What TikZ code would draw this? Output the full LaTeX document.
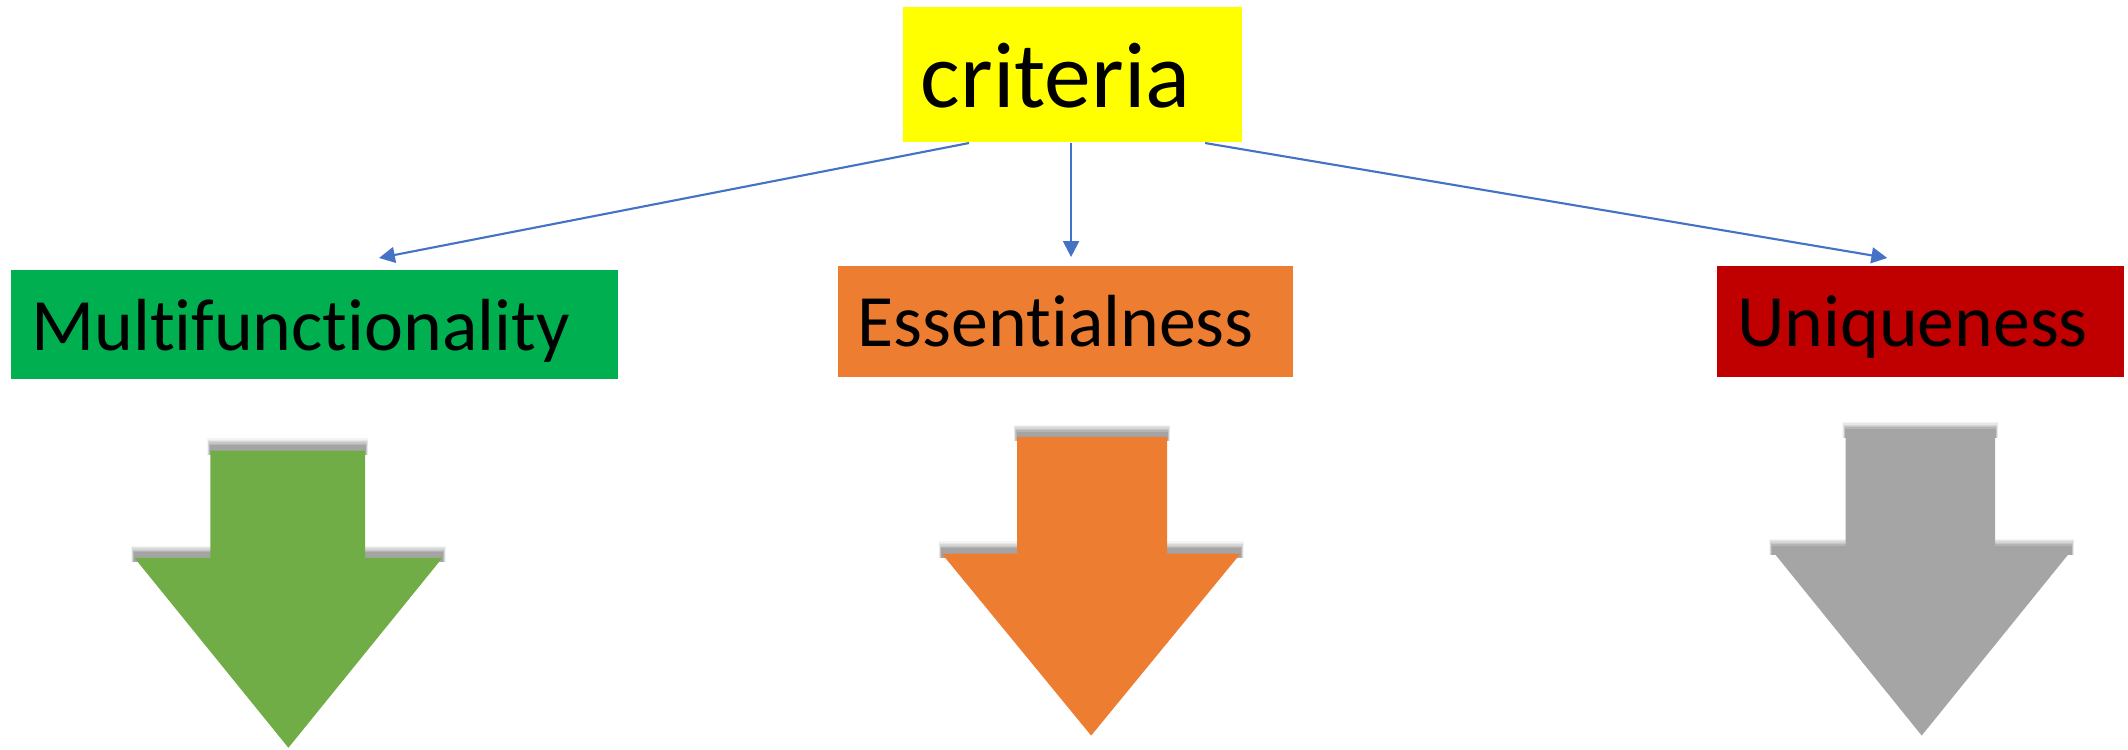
\documentclass[tikz,border=0pt]{standalone}
\usepackage{fontspec}
\setmainfont{Carlito}[Ligatures={NoCommon,NoContextual}]
\usetikzlibrary{arrows.meta}
\definecolor{cyel}{HTML}{FFFF00}
\definecolor{cgreen}{HTML}{00B050}
\definecolor{corange}{HTML}{ED7D31}
\definecolor{cred}{HTML}{C00000}
\definecolor{clgreen}{HTML}{70AD47}
\definecolor{cgray}{HTML}{A5A5A5}
\definecolor{cblue}{HTML}{4472C4}
\tikzset{
  lbl/.style={inner sep=0pt, outer sep=0pt, anchor=base west, font=\fontsize{21}{24}\selectfont},
  conn/.style={draw=cblue, line width=0.6pt, -{Triangle[length=4.5pt,width=4.5pt]}},
}
\newcommand{\bigarrow}[8]{% #1 color, #2 shaftL, #3 shaftR, #4 top, #5 shoulder, #6 headL, #7 headR, #8 tip y
  \pgfmathsetmacro{\tipx}{(#6+#7)/2}
  \foreach \k/\o in {6/0.06,5/0.08,4/0.1,3/0.12,2/0.14,1/0.16}{
    \fill[black!70, opacity=\o] (#2-0.4*\k,#4-3-\k) rectangle (#3+0.4*\k,#4+3);
    \fill[black!70, opacity=\o] (#6-0.4*\k,#5-3-\k) rectangle (#7+0.4*\k,#5+3);
  }
  \fill[#1] (#2,#4) -- (#3,#4) -- (#3,#5) -- (#7,#5) -- (\tipx,#8) -- (#6,#5) -- (#2,#5) -- cycle;
}
\begin{document}
\begin{tikzpicture}[x=0.013571cm, y=-0.013571cm]
\useasboundingbox (0,0) rectangle (1568,552);
% boxes
\fill[cyel] (665,5) rectangle (915,105);
\node[lbl, font=\fontsize{26.6}{30}\selectfont] (crit) at (678.5,78.9) {criteria};
\fill[cgreen] (8,199) rectangle (455,279.5);
\node[lbl] (mult) at (23,258) {Multifunctionality};
\fill[corange] (617.5,196) rectangle (953,278);
\node[lbl] (ess) at (632,255) {Essentialness};
\fill[cred] (1265,196) rectangle (1565,278);
\node[lbl] (uniq) at (1280,255) {Uniqueness};
% connector anchors
\coordinate (s1) at (714,105.4);
\coordinate (s2) at (789.2,105.4);
\coordinate (s3) at (888,105.4);
\coordinate (t1) at (279.3,190.1);
\coordinate (t2) at (789.2,189.4);
\coordinate (t3) at (1390.6,190.1);
\draw[conn] (s1) -- (t1);
\draw[conn] (s2) -- (t2);
\draw[conn] (s3) -- (t3);
% big arrows
\bigarrow{clgreen}{155}{269}{332}{411}{99}{326}{551}
\bigarrow{corange}{749.4}{860}{322}{408}{694}{914}{542}
\bigarrow{cgray}{1360}{1470}{320}{406}{1306}{1526}{542}
\end{tikzpicture}
\end{document}
